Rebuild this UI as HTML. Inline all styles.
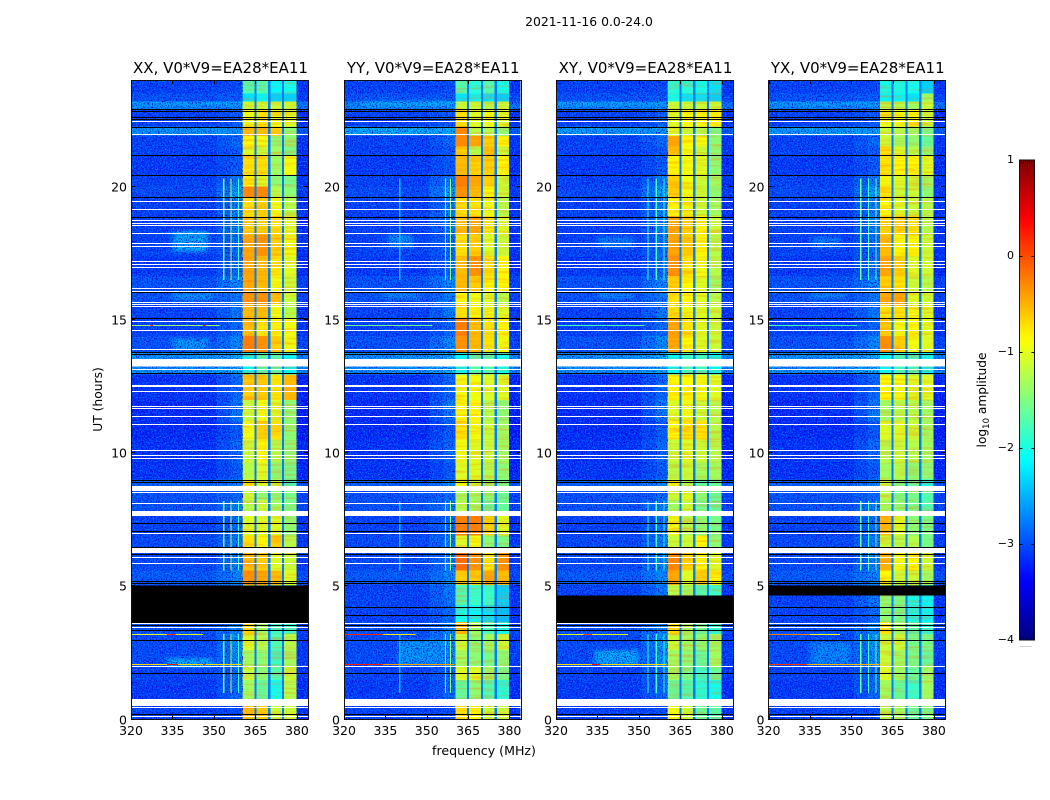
<!DOCTYPE html>
<html lang="en">
<head>
<meta charset="utf-8">
<title>2021-11-16 0.0-24.0</title>
<style>
html,body{margin:0;padding:0;background:#fff;width:1050px;height:800px;overflow:hidden}
svg{display:block}
text{font-family:"DejaVu Sans","Liberation Sans",sans-serif;fill:#000}
.tick{font-size:12.5px}
.ttl{font-size:15px}
</style>
</head>
<body>
<svg id="chart" width="1050" height="800" viewBox="0 0 1050 800">
  <defs>
    <filter id="speckle-dark" x="0" y="0" width="100%" height="100%" color-interpolation-filters="sRGB">
      <feTurbulence type="fractalNoise" baseFrequency="0.8" numOctaves="1" seed="4"/>
      <feColorMatrix type="matrix" values="0 0 0 0 0  0 0 0 0 0  0 0 0 0 0.8  4 0 0 0 -1.85"/>
    </filter>
    <filter id="speckle-light" x="0" y="0" width="100%" height="100%" color-interpolation-filters="sRGB">
      <feTurbulence type="fractalNoise" baseFrequency="0.75" numOctaves="1" seed="9"/>
      <feColorMatrix type="matrix" values="0 0 0 0 0  0 0 0 0 0.55  0 0 0 0 1  0 3.5 0 0 -1.7"/>
    </filter>
    <filter id="band-streak" x="0" y="0" width="100%" height="100%" color-interpolation-filters="sRGB">
      <feTurbulence type="fractalNoise" baseFrequency="0.03 0.42" numOctaves="2" seed="6"/>
      <feColorMatrix type="matrix" values="0 0 0 0 1  0 0 0 0 0.45  0 0 0 0 0  2.4 0 0 0 -1.0"/>
    </filter>
    <filter id="patch-blur" x="-30%" y="-60%" width="160%" height="220%">
      <feGaussianBlur stdDeviation="3 1.5"/>
    </filter>
    <linearGradient id="jet-gradient" x1="0" y1="1" x2="0" y2="0"></linearGradient>
  </defs>

  <text x="589" y="26" text-anchor="middle" style="font-size:12.4px">2021-11-16 0.0-24.0</text>

  <g id="panels"></g>

  <text x="484" y="755" text-anchor="middle" style="font-size:12.6px">frequency (MHz)</text>
  <text transform="translate(102,399.5) rotate(-90)" text-anchor="middle" style="font-size:12.3px">UT (hours)</text>

  <g id="colorbar"></g>
  <text transform="translate(986,400) rotate(-90)" text-anchor="middle" style="font-size:12.2px">log<tspan dy="3" style="font-size:8.5px">10</tspan><tspan dy="-3"> amplitude</tspan></text>
</svg>

<script>
// ---------- data ----------
const panelTitles = ['XX, V0*V9=EA28*EA11', 'YY, V0*V9=EA28*EA11', 'XY, V0*V9=EA28*EA11', 'YX, V0*V9=EA28*EA11'];
const freqTicks = [320, 335, 350, 365, 380];
const hourTicks = [0, 5, 10, 15, 20];
const colorTicks = [-4, -3, -2, -1, 0, 1];
const freqRange = [320, 384];
const hourRange = [0, 24];
const colorRange = [-4, 1];

// time bin edges (UT hours), ascending
const rowEdges = [0,.47,.77,1.48,2,2.6,3.2,3.65,4.3,5.05,5.6,6.25,6.9,7.63,8.23,8.6,9,9.65,10.5,11.2,12,12.95,13.8,14.4,15.05,15.55,16,16.65,17.4,18.2,18.9,19.6,20,20.4,21.15,21.5,21.9,22.25,22.9,23.2,23.5,24];
// log10 amplitude of the off-band background (320-351 and 380-384 MHz) per time bin
const bgLevels = [-3.05,-3.05,-3.1,-3.05,-3,-3,-2.95,-3.05,-3.05,-2.9,-3,-3,-3.05,-2.95,-2.95,-2.85,-3.15,-3.15,-3.2,-3.2,-3.15,-2.55,-2.95,-3.05,-3.05,-2.95,-2.95,-3.1,-3.05,-3.05,-3.05,-3,-3.05,-3.1,-3.05,-3.05,-2.8,-3.05,-2.65,-2.95,-3.05];
// log10 amplitude of the 356-360 MHz shoulder per time bin
const midLevels = [-3,-3,-2.8,-2.8,-2.6,-2.55,-2.6,-2.8,-2.7,-2.6,-2.7,-2.7,-2.8,-2.7,-2.8,-2.6,-2.9,-2.8,-2.9,-2.7,-2.8,-2.4,-2.6,-2.8,-2.7,-2.7,-2.6,-2.8,-2.8,-2.7,-2.7,-2.5,-2.7,-2.9,-2.9,-2.8,-2.6,-2.9,-2.6,-2.9,-3];
// frequency edges (MHz) for the four bright sub-bands and the dips between them
const bandEdges = [[360.4,364.6],[365.4,369.6],[370.4,374.6],[375.4,379.9]];
const dipEdges = [[364.6,365.4],[369.6,370.4],[374.6,375.4]];
const dipLevel = -2.75;
const bandOffset = -0.15;
const rampEdges = [351, 356];
const shoulderEdges = [356, 360.4];
const lowEdges = [320, 351];
const highEdges = [379.9, 384];

// log10 amplitude for the four sub-bands, one row per time bin, per polarisation
const bandsXX = [
[-.4,-.5,-1,-1],[-.4,-.5,-1,-1],[-1.2,-1.5,-1.9,-1.1],[-1,-1.3,-1.6,-1],[-1.2,-1.3,-1.7,-1.2],[-.9,-1.1,-1.6,-1.1],[-.6,-1.2,-1.7,-1.7],[-1,-1,-1.5,-1.5],[-1,-1,-1.5,-1.5],[-.2,-.3,-.4,-.9],
[-.4,-.5,-.9,-1],[-.6,-.7,-.5,-1.1],[-.9,-.9,-.9,-1.3],[-1.1,-1,-1.2,-1.4],[-1,-1.3,-1.3,-1.4],[-.6,-.9,-1,-1.7],[-1.1,-.9,-1.3,-1.4],[-1,-.7,-1.1,-1.3],[-.8,-.5,-.6,-1.3],[-1,-.8,-.9,-1.3],
[-.5,-.5,-.6,-.4],[-2,-1.6,-1.6,-2],[-.1,-.2,-.5,-.8],[-.4,-.6,-.7,-.8],[-.4,-.4,-.8,-1.1],[-.2,-.2,-.4,-1],[-.3,-.4,-.8,-1],[-.3,-.4,-.6,-.9],[-.3,-.2,-.5,-.8],[-.5,-.5,-.6,-.9],
[-.6,-.5,-.8,-1.1],[-.15,-.15,-1.1,-1.3],[-.7,-.9,-1.3,-1.4],[-.6,-.6,-1.2,-.8],[-.9,-1,-1.2,-1.4],[-.7,-.8,-1.3,-1.3],[-.4,-.4,-.5,-1.3],[-.8,-.6,-.8,-.9],[-1,-1,-1,-1],[-2.1,-2,-2.2,-2.2],[-1.6,-1.6,-2,-1.9]];
const bandsYY = [
[-.6,-.7,-1,-1],[-.6,-.7,-1,-1],[-1.5,-1.3,-1.6,-1.8],[-.9,-.9,-1.2,-1.4],[-1.2,-1.3,-1.4,-1.3],[-1,-1.3,-1.2,-1],[-.4,-1.2,-1.6,-1.9],[-1.9,-2,-2.1,-2.3],[-1.6,-1.7,-1.7,-2.2],[-.5,-.5,-.3,-.4],
[0,-.2,-.6,-.2],[-.9,-.8,-1.3,-1.4],[-.1,-.1,-.5,-.9],[-1.1,-1.2,-1.5,-1.5],[-1.2,-1.2,-1.3,-1.5],[-.8,-1,-1.2,-1.4],[-.9,-.9,-1.1,-1.3],[-.8,-.9,-1,-1.2],[-.6,-.8,-1,-1.2],[-.7,-.7,-1.1,-1.3],
[-.8,-.8,-.9,-.9],[-2,-1.6,-1.6,-1.9],[-.2,-.4,-.6,-.8],[-.1,-.4,-.6,-.7],[-.6,-.7,-.8,-.9],[-.7,-.8,-.9,-1.1],[-.4,-.5,-.7,-.7],[-.4,-.2,-.6,-.7],[-.6,-.5,-.9,-1],[-.4,-.3,-.6,-.9],
[-.6,-.6,-.8,-1.1],[-.2,-.4,-.7,-1],[-.1,-.3,-.5,-1],[-.4,-.5,-.5,-.7],[-.5,-1.1,-.4,-1],[-.15,-.3,-.5,-.7],[-.15,-1.1,-1.1,-1.3],[-.6,-.9,-.8,-.9],[-1,-1,-1.1,-1],[-2.1,-2,-2.1,-2.2],[-1.6,-1.8,-1.6,-1.9]];
const bandsXY = [
[-.8,-1,-1.5,-1.6],[-.8,-1,-1.5,-1.5],[-1.5,-1.6,-1.8,-1.9],[-1.2,-1.4,-1.7,-1.5],[-1.2,-1.3,-1.5,-1.2],[-1,-1.2,-1.3,-1.2],[-.6,-1.2,-1.5,-1.8],[-1.1,-1.2,-1.6,-1.7],[-1.1,-1.2,-1.6,-1.7],[-.3,-.9,-.5,-.7],
[-.15,-.5,-.7,-.9],[-1,-1,-.7,-1.3],[-.8,-1.1,-1.3,-1.4],[-1.2,-1,-1.4,-1.5],[-1,-.9,-1.3,-1.5],[-.8,-1.1,-1.5,-1.5],[-1.1,-1,-1.2,-1.2],[-1,-.9,-1,-1.1],[-.7,-.6,-.6,-1.1],[-.9,-.8,-1,-1.1],
[-.7,-.7,-.8,-.9],[-2,-1.7,-1.7,-2],[-.3,-.7,-.9,-1],[-.3,-.6,-.9,-1],[-.6,-.8,-.9,-1],[-.6,-.7,-.9,-1.1],[-.5,-.7,-.9,-1.2],[-.2,-.6,-.8,-1.1],[-.3,-.5,-.7,-1.1],[-.3,-.5,-.7,-1],
[-.7,-.8,-1,-1.2],[-.5,-.8,-1,-1.3],[-.5,-.8,-1,-1.2],[-.7,-.8,-.9,-1.3],[-.4,-.8,-1,-1.3],[-.3,-.7,-.8,-1.3],[-.9,-1,-1.1,-1.4],[-.9,-.7,-.7,-.7],[-1,-1,-1,-1],[-1.9,-2.1,-2.1,-2.2],[-1.8,-1.8,-1.9,-2.1]];
const bandsYX = [
[-1.1,-1.2,-1.5,-1.4],[-1.1,-1.2,-1.4,-1.3],[-1.2,-1.5,-1.7,-1.2],[-.9,-1.2,-1.5,-1.2],[-1,-1.2,-1.4,-1.5],[-1,-1,-1.4,-1.4],[-.6,-1.2,-1.6,-1.8],[-1.3,-1.4,-1.9,-2],[-1.3,-1.4,-1.9,-2],[-.7,-1,-1,-1.2],
[-.35,-.8,-.7,-1],[-1,-1.1,-1.1,-1.4],[-.4,-.9,-1.3,-1.4],[-1.2,-1.3,-1.4,-1.6],[-1.1,-1.4,-1.4,-1.6],[-1,-1.4,-1.5,-1.9],[-1.2,-1.1,-1.3,-1.3],[-1.1,-1,-1.1,-1.2],[-.9,-.9,-1,-1.2],[-1.2,-1.1,-1.1,-1.2],
[-.7,-.8,-.9,-.9],[-2,-1.7,-1.7,-2],[-.2,-.5,-.8,-.9],[-.5,-.8,-.7,-.9],[-.6,-.6,-.8,-.9],[-.3,-.3,-.9,-1],[-.5,-.6,-1,-1.1],[-.3,-.5,-.9,-1],[-.4,-.7,-.7,-1],[-.5,-.5,-.6,-1.1],
[-.7,-.9,-1,-1.1],[-.6,-1,-1,-1.3],[-.8,-.9,-1,-1.2],[-.6,-.7,-.7,-.9],[-.6,-.9,-1.1,-1.3],[-1,-1.2,-1.3,-1.5],[-1,-1.1,-1.2,-1.4],[-.8,-.8,-.7,-1],[-1.1,-1.1,-1.2,-1],[-2,-2,-2.1,-1.2],[-1.9,-1.9,-1.9,-2.2]];
const panelBands = [bandsXX, bandsYY, bandsXY, bandsYX];

// single flagged (blank) integrations, UT hours
const whiteLines = [.13,.47,2,3,3.47,3.64,5.87,6.09,7,8.12,8.52,9.83,9.93,10.13,11.1,11.4,11.68,11.75,12.34,12.5,12.57,13.17,13.92,14.6,14.96,15.52,15.59,15.67,16.1,16.2,17,17.1,17.22,17.77,17.88,18.27,18.56,18.63,18.76,19.17,19.47,21.98,22.47];
const whiteBandStart = [.51,6.25,7.63,8.57,13.25];
const whiteBandEnd = [.76,6.43,7.82,8.76,13.52];
// zero-amplitude (black) integrations, UT hours
const blackLines = [.2,1.75,2.98,3.35,3.54,5.14,5.2,6.22,6.47,7.07,7.39,8.9,9,13.02,13.73,13.78,15.08,16.03,18.84,19.6,20.43,21.18,22.24,22.53,22.6,22.85,22.93];
// per panel fully black time range [start,end] in UT hours
const blackBlocks = [[3.62,5.02],null,[3.62,4.66],[4.66,5.02]];
// extra black lines seen where the block is not drawn (YY and YX)
const extraBlackPanels = [[],[3.92,4.23],[],[3.92,4.23]];

// narrow band interference: frequency (MHz) and level per panel
const rfiFreqs = [[353.3,355.9,358.7],[340,356.6,358.4],[353,356,358.8],[353.2,356,358.8]];
const rfiPanelLevels = [[-1.5,-1.2,-1.8],[-2.4,-1.7,-1.4],[-1.9,-1.8,-1.9],[-1.6,-1.8,-1.6]];
const rfiStarts = [1,5.6,16.5];
const rfiEnds = [3.2,8.2,20.3];

// horizontal interference: hour, frequency limit and level, by panel
const lineHours = [2.09,3.22,14.82,13.0];
const lineLevels = [[-.7,-1,-1.4,-1.5],[-.4,-.8,-1.6,-2],[-.7,-1,-1.8,-1.9],[-.5,-.9,-1.8,-2.1]];
const lineEnd = [360,346,352,345];

// hottest stretches on those lines: panel, hour, f0, f1, level
const hotSpots = [
[0,2.09,333,337,.3],[0,3.22,333,336,.2],[0,2.09,346,347,.3],[1,2.09,320,334,.25],[1,3.22,320,334,.2],[2,2.09,333,336,.3],[2,3.22,330,333,.1],[3,2.09,320,334,.1],[3,3.22,320,335,-.2],[0,14.82,327,328,.2],[0,14.82,346,347,.3]];

// broad faint patches: panel, f0, f1, h0, h1, level
const patches = [
[0,335,348,17.55,18.35,-2.45],[0,335,350,15.75,16,-2.55],[0,335,348,13.85,14.3,-2.55],[0,333,350,1.95,2.3,-2.45],[0,320,360,23,23.2,-2.5],[0,320,360,21.95,22.25,-2.55],
[1,336,345,17.7,18.2,-2.6],[1,340,358,2.05,3,-2.55],[1,320,360,21.95,22.25,-2.4],[1,326,360,23,23.2,-2.4],[1,334,348,15.8,16,-2.6],
[2,334,350,2.05,2.6,-2.45],[2,335,348,17.7,18.1,-2.7],[2,320,360,21.95,22.25,-2.5],[2,320,360,23,23.2,-2.5],[2,335,348,15.8,16,-2.6],
[3,335,350,2.05,2.9,-2.65],[3,336,346,17.7,18.1,-2.7],[3,320,360,21.95,22.25,-2.5],[3,320,360,23,23.2,-2.5],[3,335,348,15.8,16,-2.6]];

// ---------- geometry ----------
const panelLeft = [131, 344, 556, 768.5];
const panelRight = [308, 520.5, 733, 945];
const plotTop = 80;
const plotBottom = 719.5;
const barLeft = 1019.5;
const barRight = 1034.5;
const barTop = 160;
const barBottom = 640;

const NS = 'http://www.w3.org/2000/svg';
function xScale(p, f) {
  return panelLeft[p] + (f - freqRange[0]) / (freqRange[1] - freqRange[0]) * (panelRight[p] - panelLeft[p]);
}
function yScale(h) {
  return plotBottom - (h - hourRange[0]) / (hourRange[1] - hourRange[0]) * (plotBottom - plotTop);
}
function colorY(v) {
  return barBottom - (v - colorRange[0]) / (colorRange[1] - colorRange[0]) * (barBottom - barTop);
}
function clamp01(x) { return Math.max(0, Math.min(1, x)); }
function jet(v) {
  const t = clamp01((v - colorRange[0]) / (colorRange[1] - colorRange[0]));
  const r = clamp01(Math.min(4 * t - 1.5, -4 * t + 4.5));
  const g = clamp01(Math.min(4 * t - 0.5, -4 * t + 3.5));
  const b = clamp01(Math.min(4 * t + 0.5, -4 * t + 2.5));
  return 'rgb(' + Math.round(r * 255) + ',' + Math.round(g * 255) + ',' + Math.round(b * 255) + ')';
}
function rectEl(parent, name, x, y, w, h, fill) {
  const el = document.createElementNS(NS, 'rect');
  
  
  el.setAttribute('x', x);
  el.setAttribute('y', y);
  el.setAttribute('width', Math.max(w, 0));
  el.setAttribute('height', Math.max(h, 0));
  el.setAttribute('fill', fill);
  el.setAttribute('shape-rendering', 'crispEdges');
  parent.appendChild(el);
  return el;
}
function lineEl(parent, name, x1, y1, x2, y2) {
  const el = document.createElementNS(NS, 'line');
  
  
  el.setAttribute('x1', x1);
  el.setAttribute('y1', y1);
  el.setAttribute('x2', x2);
  el.setAttribute('y2', y2);
  el.setAttribute('stroke', '#000');
  el.setAttribute('stroke-width', 1);
  el.setAttribute('shape-rendering', 'crispEdges');
  parent.appendChild(el);
  return el;
}
function textEl(parent, name, x, y, anchor, str, cls) {
  const el = document.createElementNS(NS, 'text');
  
  
  el.setAttribute('x', x);
  el.setAttribute('y', y);
  el.setAttribute('text-anchor', anchor);
  el.setAttribute('class', cls);
  el.textContent = str;
  parent.appendChild(el);
  return el;
}
function fmt(v) { return v < 0 ? '\u2212' + Math.abs(v) : String(v); }

const panelsGroup = document.getElementById('panels');

panelTitles.forEach(function (title, p) {
  const g = document.createElementNS(NS, 'g');
  
  
  panelsGroup.appendChild(g);
  const L = panelLeft[p], R = panelRight[p], W = R - L;
  const bands = panelBands[p];

  // heatmap cells
  rowEdges.slice(0, -1).forEach(function (h0, r) {
    const h1 = rowEdges[r + 1];
    const y = yScale(h1);
    const h = yScale(h0) - y;
    rectEl(g, 'heatmap-cell', xScale(p, lowEdges[0]), y, xScale(p, lowEdges[1]) - xScale(p, lowEdges[0]), h, jet(bgLevels[r]));
    rectEl(g, 'heatmap-cell', xScale(p, rampEdges[0]), y, xScale(p, rampEdges[1]) - xScale(p, rampEdges[0]), h, jet((bgLevels[r] + midLevels[r]) / 2));
    rectEl(g, 'heatmap-cell', xScale(p, shoulderEdges[0]), y, xScale(p, shoulderEdges[1]) - xScale(p, shoulderEdges[0]), h, jet(midLevels[r]));
    rectEl(g, 'heatmap-cell', xScale(p, highEdges[0]), y, xScale(p, highEdges[1]) - xScale(p, highEdges[0]), h, jet(bgLevels[r] - 0.1));
    bandEdges.forEach(function (e, b) {
      rectEl(g, 'heatmap-cell', xScale(p, e[0]), y, xScale(p, e[1]) - xScale(p, e[0]), h, jet(bands[r][b] + bandOffset));
    });
  });

  // broad patches
  patches.filter(function (q) { return q[0] === p; }).forEach(function (q) {
    const patch = rectEl(g, 'faint-patch', xScale(p, q[1]), yScale(q[4]), xScale(p, q[2]) - xScale(p, q[1]), yScale(q[3]) - yScale(q[4]), jet(q[5]));
    if (q[1] > freqRange[0]) {
      patch.setAttribute('filter', 'url(#patch-blur)');
    }
  });

  // measurement-noise texture, drawn as a filter only (no data)
  const shoulderRight = xScale(p, shoulderEdges[1]);
  const highX = xScale(p, highEdges[0]);
  [[L, shoulderRight - L], [highX, R - highX]].forEach(function (s) {
    const a = rectEl(g, 'noise-texture-dark', s[0], plotTop, s[1], plotBottom - plotTop, '#000');
    a.setAttribute('filter', 'url(#speckle-dark)');
    const b = rectEl(g, 'noise-texture-light', s[0], plotTop, s[1], plotBottom - plotTop, '#000');
    b.setAttribute('filter', 'url(#speckle-light)');
  });
  const bx = xScale(p, bandEdges[0][0]);
  const st = rectEl(g, 'band-streak-texture', bx, plotTop, xScale(p, bandEdges[3][1]) - bx, plotBottom - plotTop, '#000');
  st.setAttribute('filter', 'url(#band-streak)');
  st.setAttribute('opacity', '0.38');

  // dips between sub-bands
  dipEdges.forEach(function (e) {
    rectEl(g, 'band-dip', xScale(p, e[0]), plotTop, xScale(p, e[1]) - xScale(p, e[0]), plotBottom - plotTop, jet(dipLevel));
  });

  // vertical interference
  rfiFreqs[p].forEach(function (f, i) {
    rfiStarts.forEach(function (s, k) {
      rectEl(g, 'rfi-channel', xScale(p, f), yScale(rfiEnds[k]), 1.2, yScale(s) - yScale(rfiEnds[k]), jet(rfiPanelLevels[p][i]));
    });
  });

  // horizontal interference
  lineHours.forEach(function (hr, i) {
    rectEl(g, 'rfi-integration', L, Math.round(yScale(hr)), xScale(p, lineEnd[i]) - L, 1, jet(lineLevels[p][i]));
  });
  hotSpots.filter(function (q) { return q[0] === p; }).forEach(function (q) {
    rectEl(g, 'rfi-hot-stretch', xScale(p, q[2]), Math.round(yScale(q[1])), xScale(p, q[3]) - xScale(p, q[2]), 1, jet(q[4]));
  });

  // flagged integrations
  whiteLines.forEach(function (hr) {
    rectEl(g, 'flag-white-line', L, Math.round(yScale(hr)), W, 1, '#fff');
  });
  whiteBandStart.forEach(function (s, i) {
    rectEl(g, 'flag-white-band', L, yScale(whiteBandEnd[i]), W, yScale(s) - yScale(whiteBandEnd[i]), '#fff');
  });
  blackLines.concat(extraBlackPanels[p]).forEach(function (hr) {
    rectEl(g, 'flag-black-line', L, Math.round(yScale(hr)), W, 1, '#000');
  });
  if (blackBlocks[p]) {
    rectEl(g, 'flag-black-block', L, yScale(blackBlocks[p][1]), W, yScale(blackBlocks[p][0]) - yScale(blackBlocks[p][1]), '#000');
  }

  // frame
  const frame = rectEl(g, 'panel-frame', Math.floor(L) + .5, plotTop + .5, Math.round(W), plotBottom - plotTop - .5, 'none');
  frame.setAttribute('stroke', '#111');
  frame.setAttribute('stroke-width', '1');

  // ticks
  freqTicks.forEach(function (f) {
    const x = Math.round(xScale(p, f)) + .5;
    lineEl(g, 'x-tick-bottom', x, plotBottom, x, plotBottom - 4);
    lineEl(g, 'x-tick-top', x, plotTop, x, plotTop + 4);
    textEl(g, 'x-tick-label', xScale(p, f), 735, 'middle', String(f), 'tick');
  });
  hourTicks.forEach(function (hr) {
    const y = Math.round(yScale(hr)) - .5;
    lineEl(g, 'y-tick-left', L, y, L + 4, y);
    lineEl(g, 'y-tick-right', R, y, R - 4, y);
    textEl(g, 'y-tick-label', L - 4, y + 5, 'end', String(hr), 'tick');
  });

  textEl(g, 'panel-title', (L + R) / 2 + 1, 73, 'middle', title, 'ttl');
});

// ---------- colorbar ----------
const grad = document.getElementById('jet-gradient');
for (let i = 0; i <= 50; i++) {
  const v = colorRange[0] + (colorRange[1] - colorRange[0]) * i / 50;
  const stop = document.createElementNS(NS, 'stop');
  stop.setAttribute('offset', (i / 50));
  stop.setAttribute('stop-color', jet(v));
  grad.appendChild(stop);
}
const cb = document.getElementById('colorbar');
rectEl(cb, 'colorbar-gradient', barLeft, barTop, barRight - barLeft, barBottom - barTop, 'url(#jet-gradient)');
const cbFrame = rectEl(cb, 'colorbar-frame', barLeft, barTop, barRight - barLeft, barBottom - barTop, 'none');
cbFrame.setAttribute('stroke', '#111');
cbFrame.setAttribute('stroke-width', '1');
colorTicks.forEach(function (v) {
  const y = Math.round(colorY(v)) + .5;
  if (v !== colorRange[0] && v !== colorRange[1]) {
    lineEl(cb, 'colorbar-tick-left', barLeft, y, barLeft + 3, y);
    lineEl(cb, 'colorbar-tick-right', barRight, y, barRight - 3, y);
  }
  textEl(cb, 'colorbar-tick-label', 1014, Math.round(colorY(v)) + 3, 'end', fmt(v), 'tick').style.fontSize = '11px';
});
for (let x = barLeft + 2; x < barRight - 1; x += 2) {
  lineEl(cb, 'colorbar-minor-tick-top', x, barTop, x, barTop + 4);
  lineEl(cb, 'colorbar-minor-tick-bottom', x, barBottom, x, barBottom - 4);
  const dot = rectEl(cb, 'colorbar-trailing-dot', x - 1, 646, 1, 1, '#999');
  dot.setAttribute('opacity', '0.9');
}
</script>
</body>
</html>
